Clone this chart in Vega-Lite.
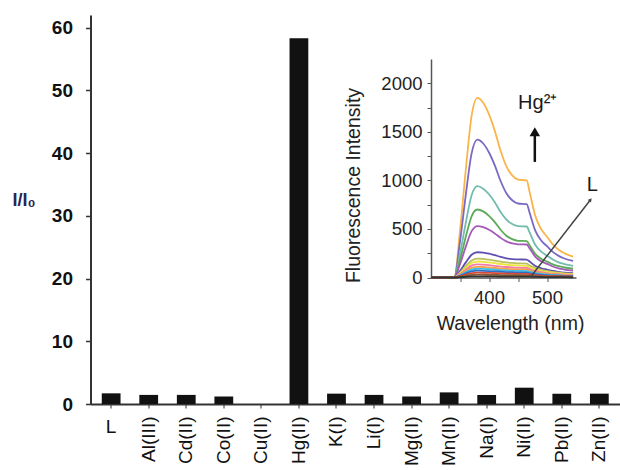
{
  "$schema": "https://vega.github.io/schema/vega-lite/v6.json",
  "width": 529.5,
  "height": 389,
  "autosize": {"type": "none"},
  "padding": {"left": 90.5, "top": 15, "right": 0, "bottom": 66},
  "background": "white",
  "config": {"font": "Liberation Sans", "view": {"stroke": null}},
  "datasets": {
    "bars": [
      {"ion": "L", "ratio": 1.7},
      {"ion": "Al(III)", "ratio": 1.45},
      {"ion": "Cd(II)", "ratio": 1.45},
      {"ion": "Co(II)", "ratio": 1.2},
      {"ion": "Cu(II)", "ratio": 0},
      {"ion": "Hg(II)", "ratio": 58.3},
      {"ion": "K(I)", "ratio": 1.65},
      {"ion": "Li(I)", "ratio": 1.45},
      {"ion": "Mg(II)", "ratio": 1.2},
      {"ion": "Mn(II)", "ratio": 1.85},
      {"ion": "Na(I)", "ratio": 1.45},
      {"ion": "Ni(II)", "ratio": 2.6},
      {"ion": "Pb(II)", "ratio": 1.65},
      {"ion": "Zn(II)", "ratio": 1.65}
    ],
    "lTickLabel": [{"ion": "L", "ratio": 0, "t": "L"}],
    "spectra": [
      {"c":"c01","w":300,"v":0},{"c":"c01","w":340,"v":0},{"c":"c01","w":350,"v":480},{"c":"c01","w":360,"v":1110},{"c":"c01","w":370,"v":1665},{"c":"c01","w":380,"v":1850},{"c":"c01","w":390,"v":1799},{"c":"c01","w":400,"v":1680},{"c":"c01","w":410,"v":1510},{"c":"c01","w":420,"v":1306},{"c":"c01","w":430,"v":1145},{"c":"c01","w":440,"v":1051},{"c":"c01","w":450,"v":1008},{"c":"c01","w":465,"v":1000},{"c":"c01","w":470,"v":882},{"c":"c01","w":480,"v":631},{"c":"c01","w":490,"v":498},{"c":"c01","w":500,"v":419},{"c":"c01","w":510,"v":341},{"c":"c01","w":520,"v":286},{"c":"c01","w":530,"v":250},{"c":"c01","w":545,"v":215},
      {"c":"c02","w":300,"v":0},{"c":"c02","w":340,"v":0},{"c":"c02","w":350,"v":369},{"c":"c02","w":360,"v":852},{"c":"c02","w":370,"v":1278},{"c":"c02","w":380,"v":1420},{"c":"c02","w":390,"v":1380},{"c":"c02","w":400,"v":1287},{"c":"c02","w":410,"v":1154},{"c":"c02","w":420,"v":994},{"c":"c02","w":430,"v":868},{"c":"c02","w":440,"v":795},{"c":"c02","w":450,"v":762},{"c":"c02","w":465,"v":755},{"c":"c02","w":470,"v":667},{"c":"c02","w":480,"v":480},{"c":"c02","w":490,"v":381},{"c":"c02","w":500,"v":322},{"c":"c02","w":510,"v":264},{"c":"c02","w":520,"v":223},{"c":"c02","w":530,"v":196},{"c":"c02","w":545,"v":170},
      {"c":"c03","w":300,"v":0},{"c":"c03","w":340,"v":0},{"c":"c03","w":350,"v":244},{"c":"c03","w":360,"v":564},{"c":"c03","w":370,"v":846},{"c":"c03","w":380,"v":940},{"c":"c03","w":390,"v":915},{"c":"c03","w":400,"v":857},{"c":"c03","w":410,"v":774},{"c":"c03","w":420,"v":674},{"c":"c03","w":430,"v":596},{"c":"c03","w":440,"v":550},{"c":"c03","w":450,"v":529},{"c":"c03","w":465,"v":525},{"c":"c03","w":470,"v":464},{"c":"c03","w":480,"v":335},{"c":"c03","w":490,"v":266},{"c":"c03","w":500,"v":225},{"c":"c03","w":510,"v":185},{"c":"c03","w":520,"v":156},{"c":"c03","w":530,"v":138},{"c":"c03","w":545,"v":120},
      {"c":"c04","w":300,"v":0},{"c":"c04","w":340,"v":0},{"c":"c04","w":350,"v":182},{"c":"c04","w":360,"v":420},{"c":"c04","w":370,"v":630},{"c":"c04","w":380,"v":700},{"c":"c04","w":390,"v":681},{"c":"c04","w":400,"v":635},{"c":"c04","w":410,"v":570},{"c":"c04","w":420,"v":492},{"c":"c04","w":430,"v":430},{"c":"c04","w":440,"v":395},{"c":"c04","w":450,"v":378},{"c":"c04","w":465,"v":375},{"c":"c04","w":470,"v":332},{"c":"c04","w":480,"v":241},{"c":"c04","w":490,"v":193},{"c":"c04","w":500,"v":164},{"c":"c04","w":510,"v":136},{"c":"c04","w":520,"v":116},{"c":"c04","w":530,"v":103},{"c":"c04","w":545,"v":90},
      {"c":"c05","w":300,"v":0},{"c":"c05","w":340,"v":0},{"c":"c05","w":350,"v":138},{"c":"c05","w":360,"v":318},{"c":"c05","w":370,"v":477},{"c":"c05","w":380,"v":530},{"c":"c05","w":390,"v":519},{"c":"c05","w":400,"v":492},{"c":"c05","w":410,"v":454},{"c":"c05","w":420,"v":408},{"c":"c05","w":430,"v":372},{"c":"c05","w":440,"v":351},{"c":"c05","w":450,"v":342},{"c":"c05","w":465,"v":340},{"c":"c05","w":470,"v":300},{"c":"c05","w":480,"v":213},{"c":"c05","w":490,"v":167},{"c":"c05","w":500,"v":140},{"c":"c05","w":510,"v":113},{"c":"c05","w":520,"v":94},{"c":"c05","w":530,"v":82},{"c":"c05","w":545,"v":70},
      {"c":"c06","w":300,"v":0},{"c":"c06","w":340,"v":0},{"c":"c06","w":350,"v":68},{"c":"c06","w":360,"v":156},{"c":"c06","w":370,"v":234},{"c":"c06","w":380,"v":260},{"c":"c06","w":390,"v":256},{"c":"c06","w":400,"v":245},{"c":"c06","w":410,"v":230},{"c":"c06","w":420,"v":212},{"c":"c06","w":430,"v":198},{"c":"c06","w":440,"v":190},{"c":"c06","w":450,"v":186},{"c":"c06","w":465,"v":185},{"c":"c06","w":470,"v":164},{"c":"c06","w":480,"v":119},{"c":"c06","w":490,"v":95},{"c":"c06","w":500,"v":81},{"c":"c06","w":510,"v":67},{"c":"c06","w":520,"v":58},{"c":"c06","w":530,"v":51},{"c":"c06","w":545,"v":45},
      {"c":"c07","w":300,"v":0},{"c":"c07","w":340,"v":0},{"c":"c07","w":350,"v":51},{"c":"c07","w":360,"v":117},{"c":"c07","w":370,"v":176},{"c":"c07","w":380,"v":195},{"c":"c07","w":390,"v":191},{"c":"c07","w":400,"v":183},{"c":"c07","w":410,"v":174},{"c":"c07","w":420,"v":164},{"c":"c07","w":430,"v":156},{"c":"c07","w":440,"v":150},{"c":"c07","w":450,"v":146},{"c":"c07","w":465,"v":142},{"c":"c07","w":470,"v":125},{"c":"c07","w":480,"v":96},{"c":"c07","w":490,"v":78},{"c":"c07","w":500,"v":66},{"c":"c07","w":510,"v":57},{"c":"c07","w":520,"v":49},{"c":"c07","w":530,"v":43},{"c":"c07","w":545,"v":37},
      {"c":"c08","w":300,"v":0},{"c":"c08","w":340,"v":0},{"c":"c08","w":350,"v":43},{"c":"c08","w":360,"v":99},{"c":"c08","w":370,"v":149},{"c":"c08","w":380,"v":165},{"c":"c08","w":390,"v":162},{"c":"c08","w":400,"v":155},{"c":"c08","w":410,"v":147},{"c":"c08","w":420,"v":139},{"c":"c08","w":430,"v":132},{"c":"c08","w":440,"v":127},{"c":"c08","w":450,"v":124},{"c":"c08","w":465,"v":120},{"c":"c08","w":470,"v":106},{"c":"c08","w":480,"v":81},{"c":"c08","w":490,"v":66},{"c":"c08","w":500,"v":56},{"c":"c08","w":510,"v":48},{"c":"c08","w":520,"v":41},{"c":"c08","w":530,"v":36},{"c":"c08","w":545,"v":31},
      {"c":"c09","w":300,"v":0},{"c":"c09","w":340,"v":0},{"c":"c09","w":350,"v":35},{"c":"c09","w":360,"v":81},{"c":"c09","w":370,"v":122},{"c":"c09","w":380,"v":135},{"c":"c09","w":390,"v":132},{"c":"c09","w":400,"v":127},{"c":"c09","w":410,"v":120},{"c":"c09","w":420,"v":113},{"c":"c09","w":430,"v":108},{"c":"c09","w":440,"v":104},{"c":"c09","w":450,"v":101},{"c":"c09","w":465,"v":99},{"c":"c09","w":470,"v":86},{"c":"c09","w":480,"v":66},{"c":"c09","w":490,"v":54},{"c":"c09","w":500,"v":46},{"c":"c09","w":510,"v":39},{"c":"c09","w":520,"v":34},{"c":"c09","w":530,"v":30},{"c":"c09","w":545,"v":26},
      {"c":"c10","w":300,"v":0},{"c":"c10","w":340,"v":0},{"c":"c10","w":350,"v":29},{"c":"c10","w":360,"v":66},{"c":"c10","w":370,"v":99},{"c":"c10","w":380,"v":110},{"c":"c10","w":390,"v":108},{"c":"c10","w":400,"v":103},{"c":"c10","w":410,"v":98},{"c":"c10","w":420,"v":92},{"c":"c10","w":430,"v":88},{"c":"c10","w":440,"v":85},{"c":"c10","w":450,"v":83},{"c":"c10","w":465,"v":80},{"c":"c10","w":470,"v":70},{"c":"c10","w":480,"v":54},{"c":"c10","w":490,"v":44},{"c":"c10","w":500,"v":37},{"c":"c10","w":510,"v":32},{"c":"c10","w":520,"v":28},{"c":"c10","w":530,"v":24},{"c":"c10","w":545,"v":21},
      {"c":"c11","w":300,"v":0},{"c":"c11","w":340,"v":0},{"c":"c11","w":350,"v":23},{"c":"c11","w":360,"v":54},{"c":"c11","w":370,"v":81},{"c":"c11","w":380,"v":90},{"c":"c11","w":390,"v":88},{"c":"c11","w":400,"v":85},{"c":"c11","w":410,"v":80},{"c":"c11","w":420,"v":76},{"c":"c11","w":430,"v":72},{"c":"c11","w":440,"v":69},{"c":"c11","w":450,"v":68},{"c":"c11","w":465,"v":66},{"c":"c11","w":470,"v":58},{"c":"c11","w":480,"v":44},{"c":"c11","w":490,"v":36},{"c":"c11","w":500,"v":31},{"c":"c11","w":510,"v":26},{"c":"c11","w":520,"v":23},{"c":"c11","w":530,"v":20},{"c":"c11","w":545,"v":17},
      {"c":"c12","w":300,"v":0},{"c":"c12","w":340,"v":0},{"c":"c12","w":350,"v":18},{"c":"c12","w":360,"v":42},{"c":"c12","w":370,"v":63},{"c":"c12","w":380,"v":70},{"c":"c12","w":390,"v":69},{"c":"c12","w":400,"v":66},{"c":"c12","w":410,"v":62},{"c":"c12","w":420,"v":59},{"c":"c12","w":430,"v":56},{"c":"c12","w":440,"v":54},{"c":"c12","w":450,"v":53},{"c":"c12","w":465,"v":51},{"c":"c12","w":470,"v":45},{"c":"c12","w":480,"v":34},{"c":"c12","w":490,"v":28},{"c":"c12","w":500,"v":24},{"c":"c12","w":510,"v":20},{"c":"c12","w":520,"v":18},{"c":"c12","w":530,"v":15},{"c":"c12","w":545,"v":13},
      {"c":"c13","w":300,"v":0},{"c":"c13","w":340,"v":0},{"c":"c13","w":350,"v":13},{"c":"c13","w":360,"v":30},{"c":"c13","w":370,"v":45},{"c":"c13","w":380,"v":50},{"c":"c13","w":390,"v":49},{"c":"c13","w":400,"v":47},{"c":"c13","w":410,"v":45},{"c":"c13","w":420,"v":42},{"c":"c13","w":430,"v":40},{"c":"c13","w":440,"v":39},{"c":"c13","w":450,"v":38},{"c":"c13","w":465,"v":37},{"c":"c13","w":470,"v":32},{"c":"c13","w":480,"v":25},{"c":"c13","w":490,"v":20},{"c":"c13","w":500,"v":17},{"c":"c13","w":510,"v":15},{"c":"c13","w":520,"v":13},{"c":"c13","w":530,"v":11},{"c":"c13","w":545,"v":10},
      {"c":"c14","w":300,"v":0},{"c":"c14","w":340,"v":0},{"c":"c14","w":350,"v":8},{"c":"c14","w":360,"v":18},{"c":"c14","w":370,"v":27},{"c":"c14","w":380,"v":30},{"c":"c14","w":390,"v":29},{"c":"c14","w":400,"v":28},{"c":"c14","w":410,"v":27},{"c":"c14","w":420,"v":25},{"c":"c14","w":430,"v":24},{"c":"c14","w":440,"v":23},{"c":"c14","w":450,"v":23},{"c":"c14","w":465,"v":22},{"c":"c14","w":470,"v":19},{"c":"c14","w":480,"v":15},{"c":"c14","w":490,"v":12},{"c":"c14","w":500,"v":10},{"c":"c14","w":510,"v":9},{"c":"c14","w":520,"v":8},{"c":"c14","w":530,"v":7},{"c":"c14","w":545,"v":6},
      {"c":"c15","w":300,"v":0},{"c":"c15","w":340,"v":0},{"c":"c15","w":350,"v":3},{"c":"c15","w":360,"v":7},{"c":"c15","w":370,"v":11},{"c":"c15","w":380,"v":12},{"c":"c15","w":390,"v":12},{"c":"c15","w":400,"v":11},{"c":"c15","w":410,"v":11},{"c":"c15","w":420,"v":10},{"c":"c15","w":430,"v":10},{"c":"c15","w":440,"v":9},{"c":"c15","w":450,"v":9},{"c":"c15","w":465,"v":9},{"c":"c15","w":470,"v":8},{"c":"c15","w":480,"v":6},{"c":"c15","w":490,"v":5},{"c":"c15","w":500,"v":4},{"c":"c15","w":510,"v":3},{"c":"c15","w":520,"v":3},{"c":"c15","w":530,"v":3},{"c":"c15","w":545,"v":2}
    ],
    "hgLabel": [{"t": "Hg²⁺", "w": 484, "v": 1800}],
    "lLabel": [{"t": "L", "w": 578, "v": 950}],
    "hgArrow": [{"w": 479, "v": 1190, "w2": 479, "v2": 1470}],
    "hgHead": [{"w": 479, "v": 1500}],
    "lLine": [{"w": 471, "v": 0, "w2": 575, "v2": 800}],
    "lHead": [{"w": 575, "v": 800}]
  },
  "layer": [
    {
      "layer": [
        {
          "data": {"name": "bars"},
          "mark": {"type": "bar", "color": "#111111"},
          "encoding": {
            "x": {
              "field": "ion", "type": "nominal", "sort": null,
              "scale": {"paddingInner": 0.5, "paddingOuter": 0.3},
              "axis": {
                "title": null, "labelAngle": -90, "labelFontSize": 19, "labelColor": "#111",
                "labelPadding": 8, "tickSize": 4, "tickColor": "#333", "domainColor": "#333", "domainWidth": 2,
                "labelExpr": "datum.value === 'L' ? '' : datum.label"
              }
            },
            "y": {
              "field": "ratio", "type": "quantitative",
              "scale": {"domain": [0, 62], "nice": false},
              "axis": {
                "values": [0,5,10,15,20,25,30,35,40,45,50,55,60],
                "labelExpr": "datum.value % 10 === 0 ? datum.label : ''",
                "tickSize": {"condition": {"test": "datum.value % 10 !== 0", "value": 3}, "value": 5},
                "grid": false, "labelFontSize": 19, "labelFontWeight": "bold", "labelColor": "#111", "labelPadding": 13,
                "tickColor": "#333", "domainColor": "#333", "domainWidth": 2, "tickWidth": 1.5,
                "title": "I/I₀", "titleAngle": 0, "titleX": -67, "titleY": 185,
                "titleAlign": "center", "titleBaseline": "middle", "titleFontSize": 18,
                "titleFontWeight": "bold", "titleColor": "#2a2450"
              }
            }
          }
        },
        {
          "data": {"name": "lTickLabel"},
          "mark": {"type": "text", "fontSize": 19, "color": "#111", "align": "center", "baseline": "top", "dy": 14},
          "encoding": {
            "x": {"field": "ion", "type": "nominal", "sort": null},
            "y": {"field": "ratio", "type": "quantitative"},
            "text": {"field": "t"}
          }
        }
      ]
    },
    {
      "layer": [
        {
          "data": {"name": "spectra"},
          "mark": {"type": "line", "strokeWidth": 1.8, "interpolate": "monotone"},
          "encoding": {
            "x": {
              "field": "w", "type": "quantitative",
              "scale": {"domain": [300, 550], "range": [340.5, 485.5], "nice": false, "zero": false},
              "axis": {
                "orient": "bottom", "offset": -126.5, "values": [350, 400, 450, 500],
                "labelExpr": "datum.value % 100 === 0 ? datum.label : ''",
                "title": "Wavelength (nm)", "titleFontSize": 19.5, "titleFontWeight": "normal", "titleColor": "#222",
                "titleX": 419.5, "titleY": 45.5, "titleAlign": "center", "titleBaseline": "middle",
                "labelFontSize": 18.5, "labelColor": "#222", "labelPadding": 7,
                "tickSize": 4, "tickColor": "#555", "domainColor": "#555", "domainWidth": 1.5, "grid": false
              }
            },
            "y": {
              "field": "v", "type": "quantitative",
              "scale": {"domain": [0, 2250], "range": [262.5, 44], "nice": false},
              "axis": {
                "orient": "left", "offset": -340.5,
                "values": [0, 250, 500, 750, 1000, 1250, 1500, 1750, 2000],
                "labelExpr": "datum.value % 500 === 0 ? datum.label : ''", "format": "d",
                "title": "Fluorescence Intensity", "titleFontSize": 19.5, "titleFontWeight": "normal", "titleColor": "#222",
                "titleX": -78, "titleY": 170, "titleAngle": -90, "titleAlign": "center", "titleBaseline": "middle",
                "labelFontSize": 18.5, "labelColor": "#222", "labelPadding": 5,
                "tickSize": 4, "tickColor": "#555", "domainColor": "#555", "domainWidth": 1.5, "grid": false
              }
            },
            "color": {
              "field": "c", "type": "nominal", "legend": null,
              "scale": {"range": ["#F9B54C", "#7A68C4", "#72BCAE", "#5CAA58", "#A35AB8", "#6050B0", "#B9C15E", "#EDE43C", "#F27CA8", "#F7A24C", "#3DBCE6", "#2F6CC9", "#D84A3A", "#8A5A30", "#333333"]}
            }
          }
        },
        {
          "data": {"name": "hgLabel"},
          "mark": {"type": "text", "fontSize": 20, "color": "#1a1a1a", "align": "center", "baseline": "middle"},
          "encoding": {"x": {"field": "w", "type": "quantitative"}, "y": {"field": "v", "type": "quantitative"}, "text": {"field": "t"}}
        },
        {
          "data": {"name": "lLabel"},
          "mark": {"type": "text", "fontSize": 20, "color": "#1a1a1a", "align": "center", "baseline": "middle"},
          "encoding": {"x": {"field": "w", "type": "quantitative"}, "y": {"field": "v", "type": "quantitative"}, "text": {"field": "t"}}
        },
        {
          "data": {"name": "hgArrow"},
          "mark": {"type": "rule", "strokeWidth": 2.5, "color": "#111"},
          "encoding": {"x": {"field": "w", "type": "quantitative"}, "y": {"field": "v", "type": "quantitative"}, "x2": {"field": "w2"}, "y2": {"field": "v2"}}
        },
        {
          "data": {"name": "hgHead"},
          "mark": {"type": "point", "shape": "triangle-up", "filled": true, "size": 110, "color": "#111", "opacity": 1},
          "encoding": {"x": {"field": "w", "type": "quantitative"}, "y": {"field": "v", "type": "quantitative"}}
        },
        {
          "data": {"name": "lLine"},
          "mark": {"type": "rule", "strokeWidth": 1.5, "color": "#444"},
          "encoding": {"x": {"field": "w", "type": "quantitative"}, "y": {"field": "v", "type": "quantitative"}, "x2": {"field": "w2"}, "y2": {"field": "v2"}}
        },
        {
          "data": {"name": "lHead"},
          "mark": {"type": "point", "shape": "triangle-up", "filled": true, "size": 18, "angle": 37, "color": "#444", "opacity": 1},
          "encoding": {"x": {"field": "w", "type": "quantitative"}, "y": {"field": "v", "type": "quantitative"}}
        }
      ]
    }
  ],
  "resolve": {"scale": {"x": "independent", "y": "independent", "color": "independent"}}
}
